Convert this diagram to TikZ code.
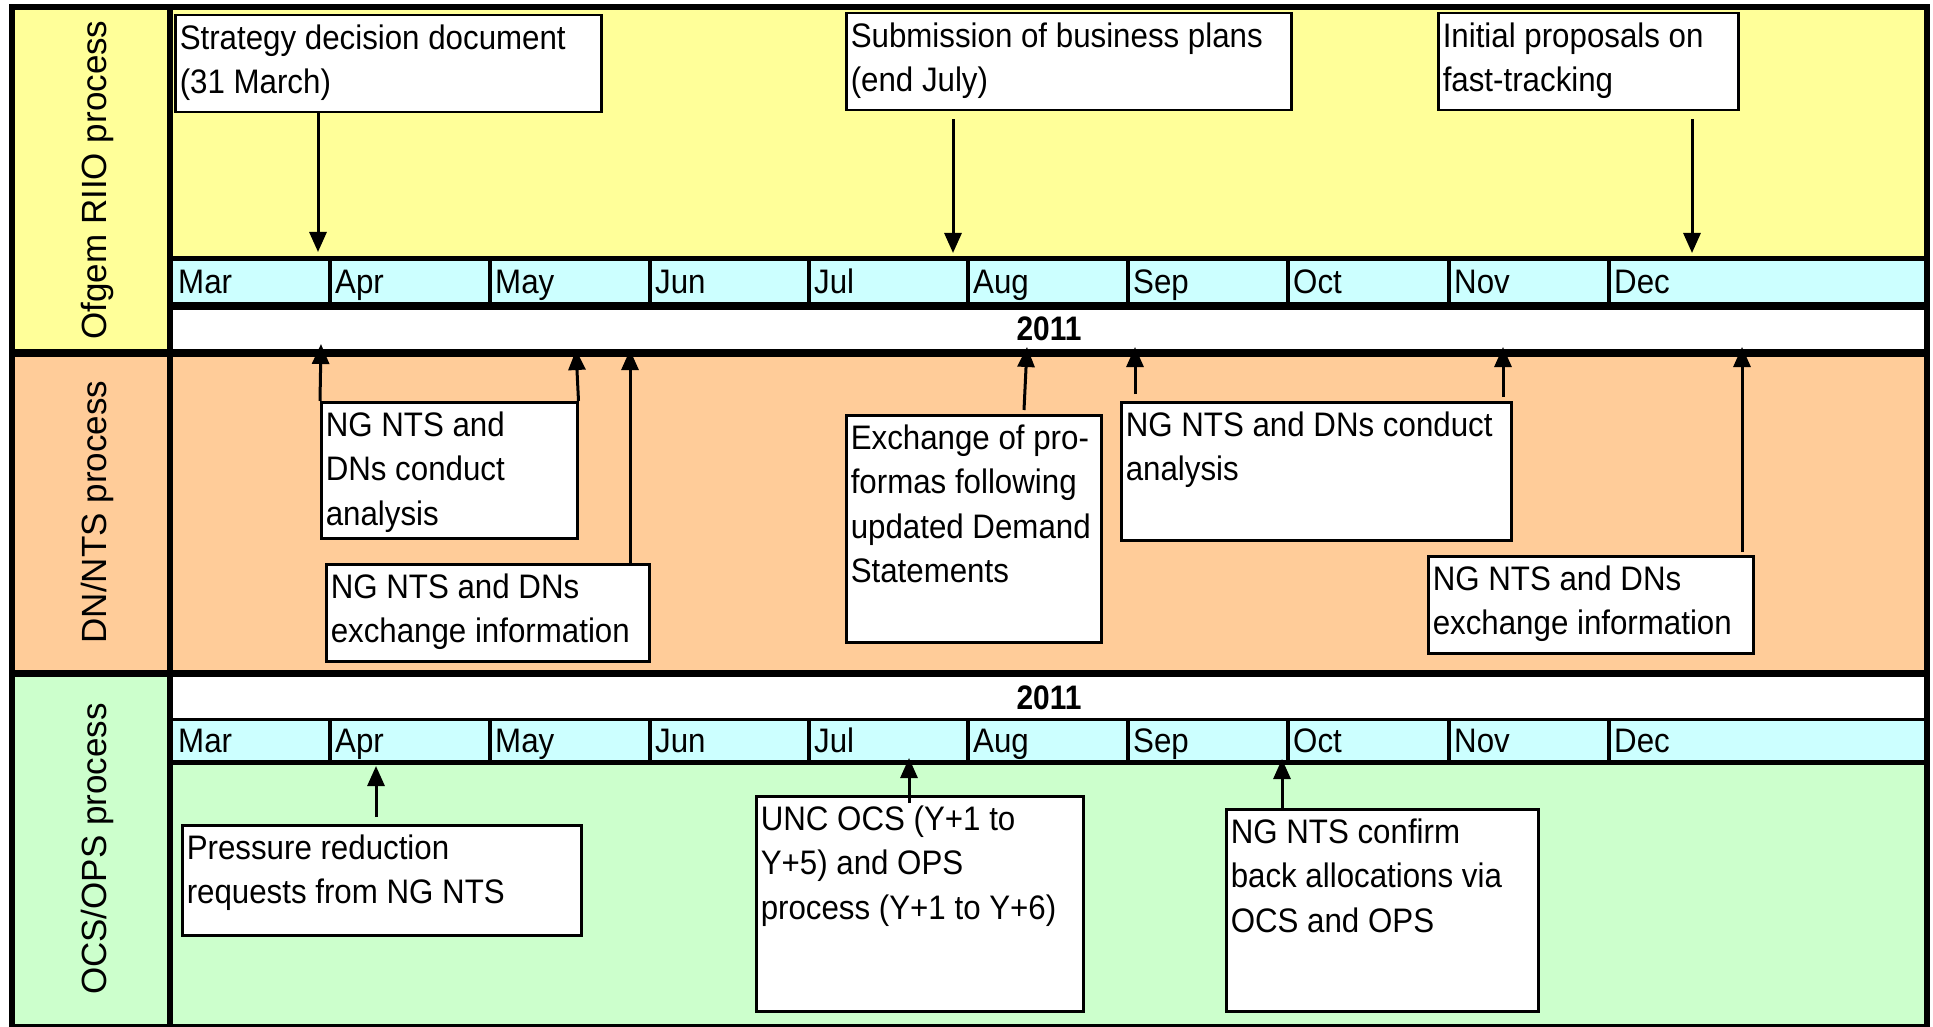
\documentclass[tikz,border=0pt]{standalone}
\usepackage{fontspec}
\setmainfont{Liberation Sans}
\newfontfamily\nar[FakeStretch=0.92]{Liberation Sans}
\newfontfamily\narb[FakeStretch=0.88]{Liberation Sans}
\usetikzlibrary{arrows.meta,calc}
\definecolor{laneY}{HTML}{FFFF99}
\definecolor{laneO}{HTML}{FFCC99}
\definecolor{laneG}{HTML}{CCFFCC}
\definecolor{barC}{HTML}{CCFFFF}
\newcommand\evtext[3]{\parbox[t][#2pt][t]{#1pt}{\raggedright\rule{0pt}{34pt}#3}}
\tikzset{
  evbox/.style={draw=black, fill=white, line width=2.5pt, anchor=north west,
    inner xsep=4.5pt, inner ysep=0pt, font=\nar\fontsize{34}{44.5}\selectfont},
  arr/.style={line width=3pt, -{Triangle[length=20pt,width=17pt]}},
  month/.style={anchor=base west, inner sep=0pt, font=\nar\fontsize{34}{40}\selectfont},
  yearlbl/.style={anchor=base, inner sep=0pt, font=\narb\bfseries\fontsize{34}{40}\selectfont},
  lanelbl/.style={rotate=90, anchor=base, inner sep=0pt, font=\fontsize{35}{40}\selectfont},
  thinrule/.style={line width=3pt},
}
\begin{document}
\begin{tikzpicture}[x=1pt,y=-1pt]
\useasboundingbox (0,0) rectangle (1933,1027);
% lane backgrounds
\fill[laneY] (11.5,7) rectangle (1927,352.5);
\fill[laneO] (11.5,352.5) rectangle (1927,673);
\fill[laneG] (11.5,673) rectangle (1927,1027);
% year bands
\fill[white] (170,306) rectangle (1927,352.5);
\fill[white] (170,673) rectangle (1927,719);
% month bars
\fill[barC] (170,258.5) rectangle (1927,306);
\fill[barC] (170,719) rectangle (1927,762.5);
\foreach \x in {330,490,650,809,968,1128,1288,1449,1609}{
  \draw[line width=3.5pt] (\x,258.5) -- (\x,306);
  \draw[line width=3.5pt] (\x,719) -- (\x,762.5);
}
% rules
\draw[line width=5pt] (170,258.5) -- (1927,258.5);
\draw[line width=8pt] (170,306) -- (1927,306);
\draw[line width=8pt] (11.5,352.5) -- (1927,352.5);
\draw[line width=7pt] (11.5,673) -- (1927,673);
\draw[thinrule] (170,719) -- (1927,719);
\draw[line width=5pt] (170,762.5) -- (1927,762.5);
\draw[line width=6pt] (170,7) -- (170,1027);
\draw[line width=6pt] (11.5,7) rectangle (1927,1027);
% month labels
\foreach \m/\x in {Mar/173,Apr/330,May/490,Jun/650,Jul/809,Aug/968,Sep/1128,Oct/1288,Nov/1449,Dec/1609}{
  \node[month] (ma\m) at (\x+5,293) {\m};
  \node[month] (mc\m) at (\x+5,752) {\m};
}
\node[yearlbl] (yr1) at (1049,340) {2011};
\node[yearlbl] (yr3) at (1049,709) {2011};
% lane labels
\node[lanelbl] (ln1) at (106,180) {Ofgem RIIO process};
\node[lanelbl] (ln2) at (106,512) {DN/NTS process};
\node[lanelbl] (ln3) at (106,849) {OCS/OPS process};
% boxes row 1
\node[evbox] (s1) at (174,14) {\evtext{417}{97}{Strategy decision document\\(31 March)}};
\node[evbox] (s2) at (845,12) {\evtext{436}{97}{Submission of business plans\\(end July)}};
\node[evbox] (s3) at (1437,12) {\evtext{291}{97}{Initial proposals on\\fast-tracking}};
% boxes row 2
\node[evbox] (d1) at (320,401) {\evtext{247}{136}{\mbox{NG NTS and}\\\mbox{DNs conduct}\\analysis}};
\node[evbox] (d2) at (325,563) {\evtext{314}{97}{\mbox{NG NTS and DNs}\\\mbox{exchange information}}};
\node[evbox] (d3) at (845,414) {\evtext{246}{227}{\mbox{Exchange of pro-}\\\mbox{formas following}\\\mbox{updated Demand}\\Statements}};
\node[evbox] (d4) at (1120,401) {\evtext{381}{138}{\mbox{NG NTS and DNs conduct}\\analysis}};
\node[evbox] (d5) at (1427,555) {\evtext{316}{97}{\mbox{NG NTS and DNs}\\\mbox{exchange information}}};
% boxes row 3
\node[evbox] (o1) at (181,824) {\evtext{390}{110}{\mbox{Pressure reduction}\\\mbox{requests from NG NTS}}};
\node[evbox] (o2) at (755,795) {\evtext{318}{215}{\mbox{UNC OCS (Y+1 to}\\\mbox{Y+5) and OPS}\\\mbox{process (Y+1 to Y+6)}}};
\node[evbox] (o3) at (1225,808) {\evtext{303}{202}{\mbox{NG NTS confirm}\\\mbox{back allocations via}\\\mbox{OCS and OPS}}};
% arrows row 1
\coordinate (ta1) at (318,252);
\coordinate (ta2) at (953,253);
\coordinate (ta3) at (1692,253);
\draw[arr] (s1.south -| ta1) -- (ta1);
\draw[arr] ($(s2.south -| ta2)+(0,8)$) -- (ta2);
\draw[arr] ($(s3.south -| ta3)+(0,8)$) -- (ta3);
% arrows row 2
\coordinate (tb1) at (321,344);
\coordinate (tb2) at (576,350);
\coordinate (tb3) at (630,350);
\coordinate (tb4) at (1027,347);
\coordinate (tb5) at (1135,347);
\coordinate (tb6) at (1503,347);
\coordinate (tb7) at (1742,347);
\draw[arr] (d1.north west) -- (tb1);
\draw[arr] (d1.north east) -- (tb2);
\draw[arr] (d2.north -| tb3) -- (tb3);
\draw[arr] ($(d3.north -| tb4)+(-3,-4)$) -- (tb4);
\draw[arr] ($(d4.north -| tb5)+(0,-7)$) -- (tb5);
\draw[arr] ($(d4.north -| tb6)+(0,-4)$) -- (tb6);
\draw[arr] ($(d5.north -| tb7)+(0,-3)$) -- (tb7);
% arrows row 3
\coordinate (tc1) at (376,766);
\coordinate (tc2) at (909,758);
\coordinate (tc3) at (1282,759);
\draw[arr] ($(o1.north -| tc1)+(0,-7)$) -- (tc1);
\draw[arr] ($(o2.north -| tc2)+(0,8)$) -- (tc2);
\draw[arr] (o3.north -| tc3) -- (tc3);
\end{tikzpicture}
\end{document}
